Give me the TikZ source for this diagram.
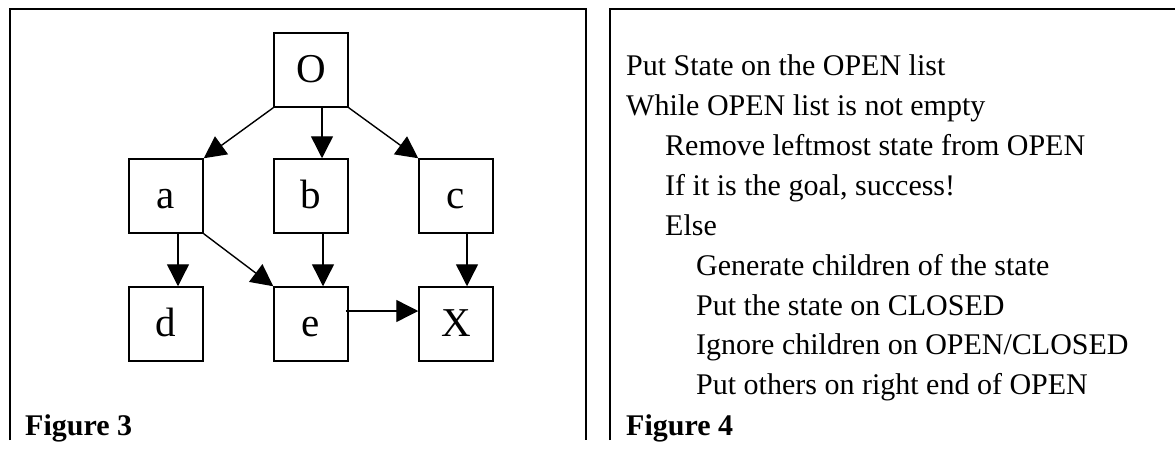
\documentclass[tikz,border=0pt]{standalone}
\usepackage{fontspec}
\setmainfont{Liberation Serif}
\usetikzlibrary{arrows.meta}

\begin{document}
\begin{tikzpicture}[x=1pt, y=-1pt,
    state/.style={draw, line width=1.5pt, minimum size=74pt, inner sep=0pt,
        text height=28pt, text depth=3pt, font=\fontsize{41}{45}\selectfont},
    edge/.style={line width=1.4pt, -{Triangle[length=22pt, width=22pt]}},
    frame/.style={line width=2pt},
    line/.style={anchor=base west, inner sep=0pt, font=\fontsize{30}{36}\selectfont},
    caption/.style={anchor=base west, inner sep=0pt, font=\fontsize{30}{36}\selectfont\bfseries}]
    % BOUNDING BOX
    \useasboundingbox (0,0) rectangle (1175,458);

    % FRAMES
    \draw[frame] (10,440) -- (10,9) -- (586,9) -- (586,440);
    \draw[frame] (610,440) -- (610,9) -- (1176,9);

    % STATE GRAPH
    \node[state] (O) at (311,70) {O};
    \node[state] (a) at (166,196) {a};
    \node[state] (b) at (311,196) {b};
    \node[state] (c) at (456,196) {c};
    \node[state] (d) at (166,324) {d};
    \node[state] (e) at (311,324) {e};
    \node[state] (X) at (456,324) {X};

    \draw[edge] (O.south west) -- (a.north east);
    \draw[edge] ([xshift=11pt]O.south) -- ([xshift=11pt]b.north);
    \draw[edge] (O.south east) -- (c.north west);
    \draw[edge] ([xshift=12pt]a.south) -- ([xshift=12pt]d.north);
    \draw[edge] (a.south east) -- (e.north west);
    \draw[edge] ([xshift=12pt]b.south) -- ([xshift=12pt]e.north);
    \draw[edge] ([xshift=11pt]c.south) -- ([xshift=11pt]X.north);
    \draw[edge] ([xshift=-3pt,yshift=13pt]e.east) -- ([yshift=13pt]X.west);

    \node[caption] (fig3) at (25,435) {Figure 3};

    % ALGORITHM
    \node[line] (l1) at (626,75) {Put State on the OPEN list};
    \node[line] (l2) at (626,115) {While OPEN list is not empty};
    \node[line] (l3) at (665,155) {Remove leftmost state from OPEN};
    \node[line] (l4) at (665,195) {If it is the goal, success!};
    \node[line] (l5) at (665,235) {Else};
    \node[line] (l6) at (696,275) {Generate children of the state};
    \node[line] (l7) at (696,315) {Put the state on CLOSED};
    \node[line] (l8) at (696,354) {Ignore children on OPEN/CLOSED};
    \node[line] (l9) at (696,394) {Put others on right end of OPEN};

    \node[caption] (fig4) at (626,435) {Figure 4};
\end{tikzpicture}
\end{document}
